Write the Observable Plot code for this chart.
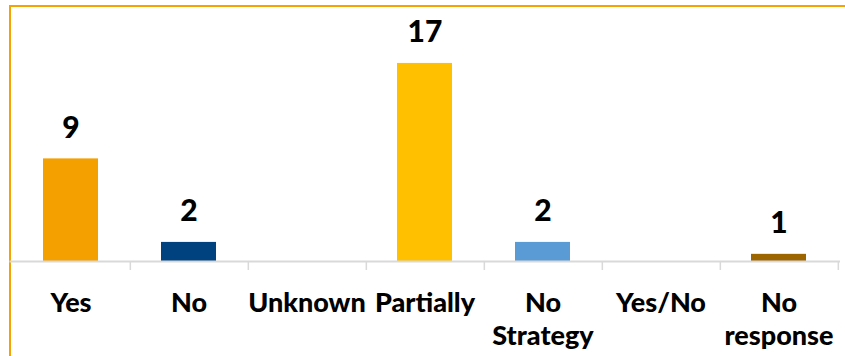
<!DOCTYPE html>
<html>
<head>
<meta charset="utf-8">
<script src="https://cdn.jsdelivr.net/npm/d3@7"></script>
<script src="https://cdn.jsdelivr.net/npm/@observablehq/plot@0.6"></script>
<style>
  html, body { margin: 0; padding: 0; background: #fff; overflow: hidden; }
  #wrap { position: relative; width: 845px; height: 356px; }
  #border { position: absolute; left: 9px; top: 5px; width: 900px; height: 400px;
            border-top: 2px solid #F4A300; border-left: 2px solid #F4A300; box-sizing: border-box; }
  #chart { position: absolute; left: 0; top: 0; }
</style>
</head>
<body>
<div id="wrap"><div id="border"></div><div id="chart"></div></div>
<script>
const categories = ["Yes", "No", "Unknown", "Partially", "No Strategy", "Yes/No", "No response"];
const tickLabels = ["Yes", "No", "Unknown", "Partially", "No\nStrategy", "Yes/No", "No\nresponse"];
const values = [9, 2, 0, 17, 2, 0, 1];
const colors = ["#F4A100", "#00427F", "#999999", "#FFC000", "#5B9BD5", "#999999", "#9C6500"];

const data = categories.map((c, i) => ({cat: c, value: values[i], color: colors[i]}));
const nonzero = data.filter(d => d.value > 0);

const W = 845, H = 356, mL = 9.4, mR = 5, mT = 51, mB = 95;
const step = (W - mL - mR) / categories.length;
const font = "Lato, 'Open Sans', sans-serif";

const chart = Plot.plot({
  width: W, height: H,
  marginLeft: mL, marginRight: mR, marginTop: mT, marginBottom: mB,
  style: {fontFamily: font, background: "transparent", overflow: "visible"},
  x: {domain: categories, paddingInner: 0.53, paddingOuter: 0.265, label: null},
  y: {domain: [0.4, 18], clamp: true, axis: null},
  marks: [
    Plot.barY(nonzero, {x: "cat", y1: 0, y2: "value", fill: d => d.color}),
    Plot.ruleY([0], {stroke: "#d9d9d9", strokeWidth: 1.8}),
    Plot.axisX({tickSize: 9, stroke: "#d9d9d9", strokeWidth: 1.5, dx: step / 2, tickFormat: () => "", label: null}),
    Plot.axisX({tickSize: 0, tickPadding: 27, fontSize: 27, fontWeight: 900, fill: "#000",
                lineHeight: 1.22,
                tickFormat: d => tickLabels[categories.indexOf(d)], label: null}),
    Plot.text(nonzero, {x: "cat", y: "value", text: d => String(d.value), lineAnchor: "bottom",
                        dy: -21, fontSize: 30, fontWeight: 900, fill: "#000"})
  ]
});
document.getElementById("chart").appendChild(chart);
</script>
</body>
</html>
